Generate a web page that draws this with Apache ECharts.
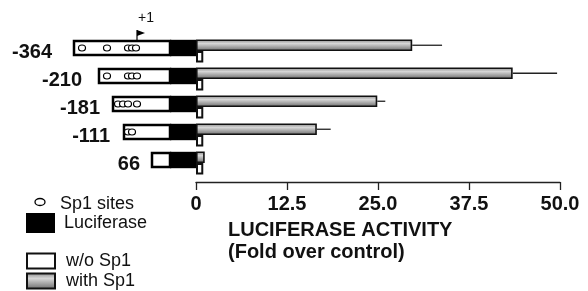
<!DOCTYPE html>
<html>
<head>
<meta charset="utf-8">
<script src="https://cdn.jsdelivr.net/npm/echarts@6/dist/echarts.min.js"></script>
<style>html,body{margin:0;padding:0;background:#fff}#main{width:588px;height:291px}</style>
</head>
<body>
<div id="main"></div>
<script>
var constructs = ['-364', '-210', '-181', '-111', '66'];
var withSp1 = [29.7, 43.5, 24.9, 16.6, 1.2];
var withSp1Err = [4.1, 6.1, 1.1, 1.9, 0];
var withoutSp1 = [1, 1, 1, 1, 1];

// promoter schematic, drawing units along the left panel (luciferase ends at 196)
var promoterStart = [74, 99, 113, 124, 152];
var labelRight = [52, 82, 100, 110, 140];
var sp1Sites = [[82, 107, 128, 132, 136], [107, 128, 132, 137], [118, 123, 128, 137], [128, 132], []];
var lucStart = 170, lucEnd = 196;
var tssPos = 137;

var FONT = '"Liberation Sans", Arial, sans-serif';
var BAR_W = 11.5;

var myChart = echarts.init(document.getElementById('main'));

var schemData = promoterStart.map(function (s, i) { return [s, i]; });
var errData = withSp1.map(function (v, i) { return [v, i, withSp1Err[i]]; });

var grayFill = new echarts.graphic.LinearGradient(0, 0, 0, 1, [
    { offset: 0, color: '#8a8a8a' },
    { offset: 0.35, color: '#d6d6d6' },
    { offset: 1, color: '#6a6a6a' }
]);

var option = {
    animation: false,
    backgroundColor: '#fff',
    grid: [
        { left: 196, right: 28, top: 37, height: 140 },
        { left: 0, width: 196, top: 37, height: 140 }
    ],
    xAxis: [{
        type: 'value',
        gridIndex: 0,
        min: 0,
        max: 50,
        interval: 12.5,
        offset: 5,
        splitLine: { show: false },
        axisLine: { show: true, lineStyle: { color: '#222', width: 1.3 } },
        axisTick: { show: true, length: 8, lineStyle: { color: '#222', width: 1.3 } },
        axisLabel: {
            margin: 12,
            color: '#111',
            fontFamily: FONT,
            fontWeight: 'bold',
            fontSize: 20,
            formatter: function (v) { return v === 0 ? '0' : v.toFixed(1); }
        }
    }, {
        type: 'value',
        gridIndex: 1,
        min: 0,
        max: 196,
        show: false
    }],
    yAxis: [{
        type: 'category',
        gridIndex: 0,
        data: constructs,
        inverse: true,
        show: false
    }, {
        type: 'category',
        gridIndex: 1,
        data: constructs,
        inverse: true,
        show: false
    }],
    legend: {
        data: ['w/o Sp1', 'with Sp1'],
        orient: 'vertical',
        left: 26,
        top: 252,
        padding: 0,
        icon: 'rect',
        itemWidth: 28,
        itemHeight: 15,
        itemGap: 2,
        selectedMode: false,
        textStyle: { fontFamily: FONT, fontSize: 18, color: '#111', padding: [0, 0, 0, 6] }
    },
    graphic: [
        { type: 'ellipse', shape: { cx: 40, cy: 202, rx: 5, ry: 3.5 }, style: { fill: '#fff', stroke: '#000', lineWidth: 1.3 } },
        { type: 'text', x: 60, y: 204, style: { text: 'Sp1 sites', font: '18px ' + FONT, fill: '#111', verticalAlign: 'middle' } },
        { type: 'rect', shape: { x: 26, y: 213, width: 29, height: 20 }, style: { fill: '#000' } },
        { type: 'text', x: 64, y: 223.5, style: { text: 'Luciferase', font: '18px ' + FONT, fill: '#111', verticalAlign: 'middle' } },
        { type: 'text', x: 228, y: 230, style: { text: 'LUCIFERASE ACTIVITY', font: 'bold 20px ' + FONT, fill: '#111', verticalAlign: 'middle' } },
        { type: 'text', x: 228, y: 252, style: { text: '(Fold over control)', font: 'bold 20px ' + FONT, fill: '#111', verticalAlign: 'middle' } }
    ],
    series: [{
        name: 'with Sp1',
        type: 'bar',
        data: withSp1,
        barWidth: BAR_W,
        barGap: '0%',
        itemStyle: { color: grayFill, borderColor: '#111', borderWidth: 1.6 }
    }, {
        name: 'w/o Sp1',
        type: 'bar',
        data: withoutSp1,
        barWidth: BAR_W,
        barGap: '0%',
        itemStyle: { color: '#fff', borderColor: '#111', borderWidth: 2 }
    }, {
        type: 'custom',
        name: 'err',
        data: errData,
        encode: { x: 0, y: 1 },
        z: 3,
        renderItem: function (params, api) {
            var err = api.value(2);
            if (!err) return null;
            var a = api.coord([api.value(0), api.value(1)]);
            var b = api.coord([api.value(0) + err, api.value(1)]);
            var y = a[1] - BAR_W / 2;
            return {
                type: 'line',
                shape: { x1: a[0], y1: y, x2: b[0], y2: y },
                style: { stroke: '#222', lineWidth: 1.3 }
            };
        }
    }, {
        type: 'custom',
        name: 'schematic',
        xAxisIndex: 1,
        yAxisIndex: 1,
        data: schemData,
        encode: { x: 0, y: 1 },
        clip: false,
        renderItem: function (params, api) {
            var i = params.dataIndex;
            var p = api.coord([api.value(0), api.value(1)]);
            var yc = p[1];
            var top = yc - 10, h = 14;
            var xL = api.coord([lucStart, i])[0];
            var xE = api.coord([lucEnd, i])[0];
            var kids = [
                { type: 'rect', shape: { x: p[0], y: top, width: xL - p[0], height: h },
                  style: { fill: '#fff', stroke: '#000', lineWidth: 2.5 } },
                { type: 'rect', shape: { x: xL, y: top - 1.2, width: xE - xL, height: h + 2.4 },
                  style: { fill: '#000' } },
                { type: 'text', style: { text: constructs[i], x: api.coord([labelRight[i], i])[0], y: yc + 1,
                  align: 'right', verticalAlign: 'middle', font: 'bold 20px ' + FONT, fill: '#111' } }
            ];
            sp1Sites[i].forEach(function (s) {
                kids.push({ type: 'ellipse', shape: { cx: api.coord([s, i])[0], cy: top + h / 2, rx: 3.5, ry: 3 },
                    style: { fill: '#fff', stroke: '#000', lineWidth: 1.2 } });
            });
            if (i === 0) {
                var xt = api.coord([tssPos, i])[0];
                kids.push({ type: 'polyline', shape: { points: [[xt, top], [xt, top - 11]] }, style: { stroke: '#000', lineWidth: 1.2 } });
                kids.push({ type: 'polygon', shape: { points: [[xt, top - 11], [xt + 8, top - 8], [xt, top - 5]] }, style: { fill: '#000' } });
                kids.push({ type: 'text', style: { text: '+1', x: xt + 9, y: top - 23, align: 'center', verticalAlign: 'middle', font: '14px ' + FONT, fill: '#111' } });
            }
            return { type: 'group', children: kids };
        }
    }]
};

myChart.setOption(option);
</script>
</body>
</html>
